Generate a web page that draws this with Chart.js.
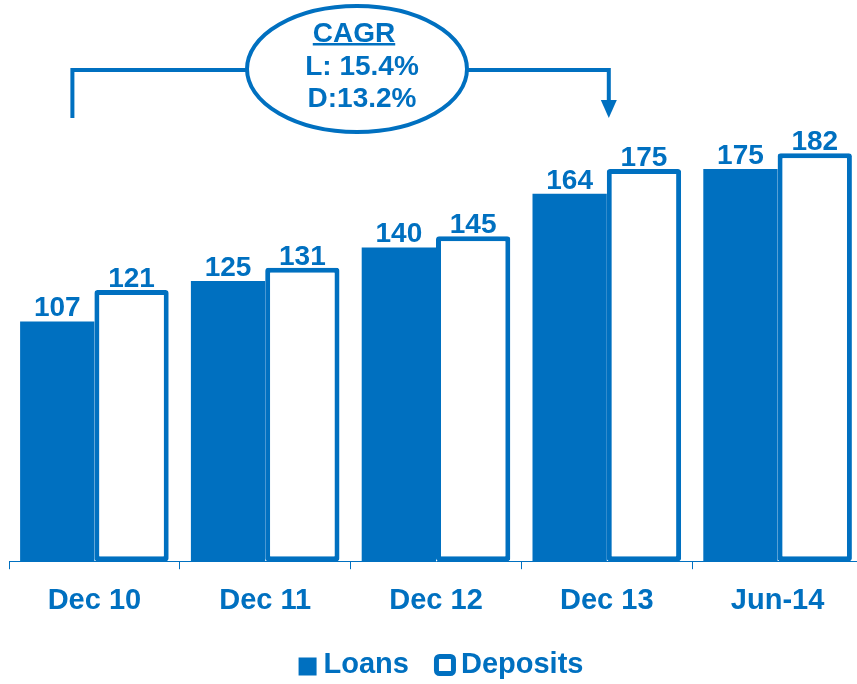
<!DOCTYPE html>
<html lang="en">
<head>
<meta charset="UTF-8">
<title>Loans and Deposits</title>
<script src="https://cdn.jsdelivr.net/npm/chart.js"></script>
<style>
    body { margin: 0; overflow: hidden; background: #fff; }
    .wrap { width: 864px; height: 684px; }
</style>
</head>
<body>
<div class="wrap"><canvas id="grafico"></canvas></div>
<script>
    const periodos = ['Dec 10', 'Dec 11', 'Dec 12', 'Dec 13', 'Jun-14'];
    const loans = [107, 125, 140, 164, 175];
    const deposits = [121, 131, 145, 175, 182];
    const cagrLinhas = ['L: 15.4%', 'D:13.2%'];

    const azul = '#0070C0';
    const fonte = '"Liberation Sans", Arial, sans-serif';

    // numbers above the bars
    const rotulos = {
        id: 'rotulos',
        afterDatasetsDraw(chart) {
            const ctx = chart.ctx;
            ctx.save();
            ctx.fillStyle = azul;
            ctx.font = 'bold 28px ' + fonte;
            ctx.textAlign = 'center';
            ctx.textBaseline = 'alphabetic';
            chart.data.datasets.forEach((ds, i) => {
                chart.getDatasetMeta(i).data.forEach((bar, j) => {
                    ctx.fillText(ds.data[j], bar.x, bar.y - (i === 0 ? 5 : 3));
                });
            });
            ctx.restore();
        }
    };

    // legend drawn by hand: filled square for loans, outlined one for deposits
    const legenda = {
        id: 'legenda',
        afterDraw(chart) {
            const ctx = chart.ctx;
            const ds = chart.data.datasets;
            ctx.save();
            ctx.font = 'bold 29px ' + fonte;
            ctx.textBaseline = 'middle';
            ctx.textAlign = 'left';
            const y = 665;
            const w0 = ctx.measureText(ds[0].label).width;
            const w1 = ctx.measureText(ds[1].label).width;
            const total = 18 + 7 + w0 + 25 + 22 + 5 + w1;
            let x = 441 - total / 2;
            ctx.fillStyle = azul;
            ctx.fillRect(x, y - 7.5, 18, 18);
            x += 25;
            ctx.fillText(ds[0].label, x, y);
            x += w0 + 25;
            ctx.strokeStyle = azul;
            ctx.lineWidth = 5;
            ctx.beginPath();
            ctx.roundRect(x + 2.5, y - 8.5, 17, 17, 3);
            ctx.stroke();
            x += 27;
            ctx.fillText(ds[1].label, x, y);
            ctx.restore();
        }
    };

    // CAGR bubble with bracket and arrow
    const cagr = {
        id: 'cagr',
        afterDraw(chart) {
            const ctx = chart.ctx;
            const xs = chart.scales.x;
            const xEsq = xs.getPixelForValue(0) - 22;
            const xDir = xs.getPixelForValue(3) + 2;
            const yLinha = 70;
            const cx = 357, cy = 69, rx = 110, ry = 63;
            ctx.save();
            ctx.strokeStyle = azul;
            ctx.fillStyle = azul;
            ctx.lineWidth = 4;
            ctx.beginPath();
            ctx.moveTo(xEsq, 118);
            ctx.lineTo(xEsq, yLinha);
            ctx.lineTo(cx - rx, yLinha);
            ctx.moveTo(cx + rx, yLinha);
            ctx.lineTo(xDir, yLinha);
            ctx.lineTo(xDir, 102);
            ctx.stroke();
            ctx.beginPath();
            ctx.moveTo(xDir - 8, 100);
            ctx.lineTo(xDir + 8, 100);
            ctx.lineTo(xDir, 118);
            ctx.closePath();
            ctx.fill();
            ctx.beginPath();
            ctx.ellipse(cx, cy, rx, ry, 0, 0, Math.PI * 2);
            ctx.fillStyle = '#fff';
            ctx.fill();
            ctx.stroke();

            ctx.fillStyle = azul;
            ctx.textAlign = 'center';
            ctx.textBaseline = 'alphabetic';
            ctx.font = 'bold 28px ' + fonte;
            ctx.fillText('CAGR', 354, 42);
            const w = ctx.measureText('CAGR').width;
            ctx.fillRect(354 - w / 2, 43, w, 2.5);
            ctx.fillText(cagrLinhas[0], 362, 75);
            ctx.fillText(cagrLinhas[1], 362, 107);
            ctx.restore();
        }
    };

    new Chart(document.getElementById('grafico'), {
        type: 'bar',
        data: {
            labels: periodos,
            datasets: [{
                label: 'Loans',
                data: loans,
                backgroundColor: azul,
                borderColor: azul,
                borderWidth: 0,
                categoryPercentage: 0.87,
                barPercentage: 1
            }, {
                label: 'Deposits',
                data: deposits,
                backgroundColor: '#fff',
                borderColor: azul,
                borderWidth: 5,
                borderSkipped: false,
                borderRadius: 3,
                categoryPercentage: 0.87,
                barPercentage: 1
            }]
        },
        options: {
            responsive: true,
            maintainAspectRatio: false,
            animation: false,
            layout: { padding: { left: 9, right: 1, top: 113, bottom: 52 } },
            plugins: {
                tooltip: { enabled: false },
                legend: { display: false }
            },
            scales: {
                x: {
                    grid: {
                        drawOnChartArea: false,
                        color: azul,
                        tickLength: 8
                    },
                    border: { color: azul, width: 1 },
                    ticks: {
                        color: azul,
                        font: { family: fonte, size: 29, weight: 'bold' },
                        padding: 14
                    }
                },
                y: {
                    display: false,
                    min: 0,
                    max: 200
                }
            }
        },
        plugins: [rotulos, cagr, legenda]
    });
</script>
</body>
</html>
